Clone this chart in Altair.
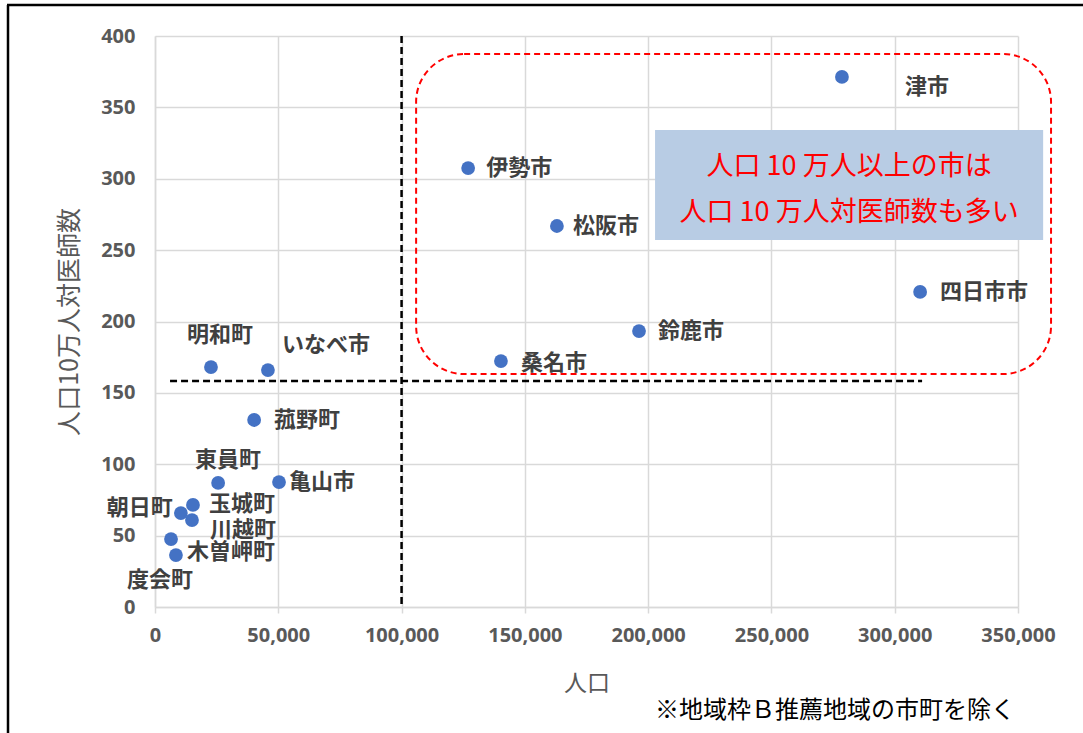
import altair as alt
import pandas as pd

# --- data ---
names = ["津市", "伊勢市", "松阪市", "四日市市", "鈴鹿市", "桑名市", "明和町", "いなべ市",
         "菰野町", "東員町", "亀山市", "玉城町", "朝日町", "川越町", "木曽岬町", "度会町"]
population = [278600, 127000, 163000, 310300, 196300, 140300, 22700, 45800,
              40200, 25600, 50300, 15400, 10500, 15000, 8500, 6500]
doctors = [371.3, 307.5, 266.9, 220.7, 193.3, 172.3, 168.1, 166.0,
           131.0, 86.9, 87.5, 71.5, 65.8, 60.9, 36.4, 47.6]

x_ticks = [0, 50000, 100000, 150000, 200000, 250000, 300000, 350000]
y_ticks = [0, 50, 100, 150, 200, 250, 300, 350, 400]

# reference lines
vline_x = [100000]
hline_y = [158.3]
hline_x_from = [6100]
hline_x_to = [311100]

# annotation boxes (data coordinates)
red_box = {"x": [105900], "x2": [363400], "y": [163.2], "y2": [387.4]}
blue_box = {"x": [202800], "x2": [360200], "y": [257.1], "y2": [334.1]}
note_lines = ["人口 10 万人以上の市は", "人口 10 万人対医師数も多い"]
note_x = [281500, 281500]
note_y = [308.2, 276.0]

footnote = ["※地域枠Ｂ推薦地域の市町を除く"]

# label placement (pixel offsets from each point)
label_align = ["left", "left", "left", "left", "left", "left", "center", "left",
               "left", "center", "left", "left", "right", "left", "left", "center"]
label_dx = [63, 18, 16, 20, 19, 20, 9, 14, 20, 10, 10, 16, -8, 18, 11, -11]
label_dy = [10, 0, 0, 0, 0, 2, -32, -25, 0, -23, 0, -1, -5, 10, -3, 41]

CJK = "Noto Sans CJK JP"
GRAY = "#595959"
GRID = "#d9d9d9"

df = pd.DataFrame({"name": names, "pop": population, "doc": doctors})

xscale = alt.Scale(domain=[0, 350000], nice=False)
yscale = alt.Scale(domain=[0, 400], nice=False)

x_axis = alt.Axis(values=x_ticks, format=",d", labelFont="Open Sans", labelFontWeight="bold",
                  labelFontSize=20, labelColor=GRAY, labelPadding=12, labelFlush=False,
                  labelOverlap=False, tickColor=GRID, tickSize=6, tickWidth=1.5,
                  domainColor=GRID, domainWidth=1.5, gridColor=GRID, gridWidth=1.5,
                  title="人口", titleFont=CJK, titleFontSize=23, titleFontWeight="normal",
                  titleColor=GRAY, titlePadding=27)
y_axis = alt.Axis(values=y_ticks, format="d", labelFont="Open Sans", labelFontWeight="bold",
                  labelFontSize=20, labelColor=GRAY, labelPadding=20, labelFlush=False,
                  labelOverlap=False, ticks=False, domainColor=GRID, domainWidth=1.5,
                  gridColor=GRID, gridWidth=1.5,
                  title="人口10万人対医師数", titleFont=CJK, titleFontSize=25,
                  titleFontWeight="normal", titleColor=GRAY, titlePadding=18)


def X(field):
    return alt.X(field, scale=xscale, axis=x_axis)


def Y(field):
    return alt.Y(field, scale=yscale, axis=y_axis)


points = alt.Chart(df).mark_circle(size=190, color="#4472c4", opacity=1).encode(
    x=X("pop:Q"), y=Y("doc:Q"),
)

blue = alt.Chart(pd.DataFrame(blue_box)).mark_rect(color="#b8cce4").encode(
    x=X("x:Q"), x2="x2:Q", y=Y("y:Q"), y2="y2:Q",
)

red = alt.Chart(pd.DataFrame(red_box)).mark_rect(
    fillOpacity=0, stroke="#ff0000", strokeWidth=2, strokeDash=[6, 4], cornerRadius=48
).encode(x=X("x:Q"), x2="x2:Q", y=Y("y:Q"), y2="y2:Q")

note = alt.Chart(pd.DataFrame({"t": note_lines, "x": note_x, "y": note_y})).mark_text(
    color="#ff0000", font=CJK, fontSize=27, align="center", baseline="middle"
).encode(x=X("x:Q"), y=Y("y:Q"), text="t:N")

vline = alt.Chart(pd.DataFrame({"x": vline_x})).mark_rule(
    color="black", strokeWidth=2.5, strokeDash=[7, 4]
).encode(x=X("x:Q"))

hline = alt.Chart(pd.DataFrame({"x": hline_x_from, "x2": hline_x_to, "y": hline_y})).mark_rule(
    color="black", strokeWidth=2.5, strokeDash=[7, 4]
).encode(x=X("x:Q"), x2="x2:Q", y=Y("y:Q"))

label_layers = []
for i, n in enumerate(names):
    label_layers.append(
        alt.Chart(df).transform_filter(alt.datum.name == n).mark_text(
            font=CJK, fontSize=22, fontWeight="bold", color="#404040",
            align=label_align[i], baseline="middle", dx=label_dx[i], dy=label_dy[i]
        ).encode(x=X("pop:Q"), y=Y("doc:Q"), text="name:N")
    )

foot = alt.Chart(pd.DataFrame({"t": footnote})).mark_text(
    font=CJK, fontSize=24, color="black", align="left", baseline="middle"
).encode(x=alt.value(500), y=alt.value(675), text="t:N")

border_left = alt.Chart(pd.DataFrame({"a": [0]})).mark_rule(color="black", strokeWidth=2.5).encode(
    x=alt.value(-147), y=alt.value(-31), y2=alt.value(700))
border_top = alt.Chart(pd.DataFrame({"a": [0]})).mark_rule(color="black", strokeWidth=2.5).encode(
    x=alt.value(-148), x2=alt.value(930), y=alt.value(-31))

chart = alt.layer(
    blue, red, note, vline, hline, *label_layers, points, foot, border_left, border_top
).properties(
    width=863, height=571,
    autosize=alt.AutoSizeParams(type="none"),
    padding={"left": 155, "top": 36, "right": 65, "bottom": 126},
    background="white",
).configure_view(stroke=None)

chart.save("out.html", embed_options={"renderer": "svg", "actions": False})
